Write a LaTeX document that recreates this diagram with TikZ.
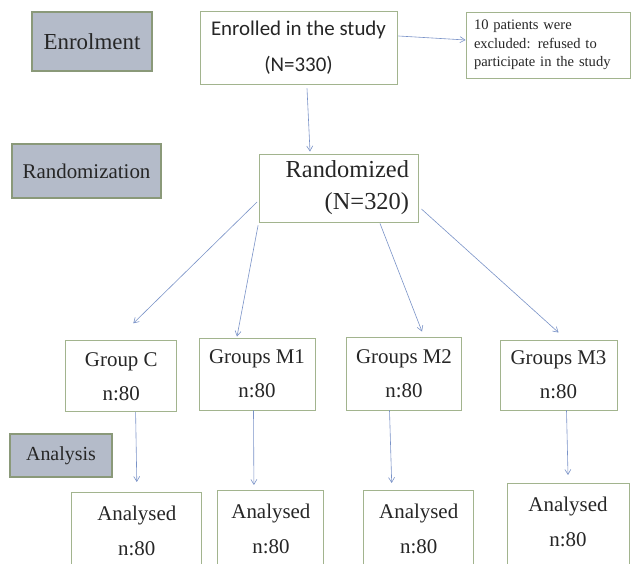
\documentclass[tikz,border=0pt]{standalone}
\usepackage{fontspec}
\setmainfont{Liberation Serif}
\newfontfamily\calibri{Carlito}
\usetikzlibrary{arrows.meta}

\definecolor{boxgreen}{HTML}{A2B48E}
\definecolor{phasefill}{HTML}{B4BBC9}
\definecolor{linkblue}{HTML}{7A93C8}
\definecolor{inkgray}{HTML}{262626}

\begin{document}
\begin{tikzpicture}[x=1bp,y=1bp,
  phase/.style={draw=boxgreen!85!black,line width=1.8bp,fill=phasefill,
    text=inkgray,inner sep=0pt},
  stepbox/.style={draw=boxgreen,line width=0.9bp,fill=white,text=inkgray,
    inner sep=0pt,align=center},
  lastbox/.style={stepbox,anchor=north,minimum height=92bp,text depth=16bp,
    font=\fontsize{21}{35}\selectfont},
  link/.style={draw=linkblue,line width=0.6bp,-{Straight Barb[length=5bp,width=6bp]}}]
  \path[use as bounding box] (0,0) rectangle (631,564);
  \fill[white] (0,0) rectangle (631,564);

  % phase labels
  \node[phase,minimum width=120bp,minimum height=59bp,
    font=\fontsize{23}{26}\selectfont] (enrol) at (92,522.5) {Enrolment};
  \node[phase,minimum width=149bp,minimum height=54bp,
    font=\fontsize{21}{24}\selectfont] (randz) at (86.5,393) {Randomization};
  \node[phase,minimum width=102bp,minimum height=43bp,
    font=\fontsize{20}{23}\selectfont] (anal) at (61,108.5) {Analysis};

  % enrolment and randomisation
  \node[stepbox,minimum width=197bp,minimum height=73bp,
    font=\calibri\fontsize{21}{36}\selectfont] (enrolled) at (298.5,516.5)
    {Enrolled in the study\\(N=330)};
  \node[stepbox,align=left,text width=148bp,inner xsep=8bp,minimum height=66bp,
    font=\fontsize{14.6}{18.5}\selectfont] (excl) at (548,519)
    {10 patients were\\excluded: refused to\\participate in the study};
  \node[stepbox,align=right,text width=140bp,inner xsep=9.5bp,minimum height=68bp,
    font=\fontsize{24.5}{32}\selectfont] (rzd) at (339,376)
    {Randomized\\(N=320)};

  % groups
  \node[stepbox,minimum width=111bp,minimum height=71bp,
    font=\fontsize{21}{34}\selectfont] (grpC) at (121.3,187.7) {Group C\\n:80};
  \node[stepbox,minimum width=116bp,minimum height=72bp,
    font=\fontsize{21}{34}\selectfont] (grpMa) at (257,190) {Groups M1\\n:80};
  \node[stepbox,minimum width=115.5bp,minimum height=73bp,
    font=\fontsize{21}{34}\selectfont] (grpMb) at (404,190.5) {Groups M2\\n:80};
  \node[stepbox,minimum width=117bp,minimum height=70bp,
    font=\fontsize{21}{34}\selectfont] (grpMc) at (558.5,189) {Groups M3\\n:80};

  % analysed (boxes run off the bottom edge)
  \node[lastbox,minimum width=130bp] (anaC) at (136.8,72) {Analysed\\n:80};
  \node[lastbox,minimum width=106bp] (anaMa) at (270.9,74) {Analysed\\n:80};
  \node[lastbox,minimum width=110bp] (anaMb) at (418.7,74) {Analysed\\n:80};
  \node[lastbox,minimum width=122bp] (anaMc) at (568,81) {Analysed\\n:80};

  % connectors
  \draw[link] ([xshift=1bp,yshift=11.5bp]enrolled.east) -- ([yshift=5bp]excl.west);
  \draw[link] ([xshift=8.5bp,yshift=-4bp]enrolled.south) -- ([xshift=-29bp,yshift=2bp]rzd.north);
  \draw[link] ([xshift=-2bp,yshift=-14bp]rzd.west) -- ([xshift=12bp,yshift=17bp]grpC.north);
  \draw[link] ([xshift=-1bp,yshift=-3bp]rzd.south west) -- ([xshift=-20bp,yshift=1bp]grpMa.north);
  \draw[link] ([xshift=41bp,yshift=-1bp]rzd.south) -- ([xshift=18bp,yshift=5bp]grpMb.north);
  \draw[link] ([xshift=2.5bp,yshift=-21bp]rzd.east) -- ([yshift=7bp]grpMc.north);
  \draw[link] ([xshift=14.3bp]grpC.south) -- ([yshift=10bp]anaC.north);
  \draw[link] ([xshift=-3.5bp]grpMa.south) -- ([xshift=-17bp,yshift=5bp]anaMa.north);
  \draw[link] ([xshift=-14.5bp]grpMb.south) -- ([xshift=-27bp,yshift=7bp]anaMb.north);
  \draw[link] ([xshift=8bp]grpMc.south) -- ([yshift=8bp]anaMc.north);
\end{tikzpicture}
\end{document}
